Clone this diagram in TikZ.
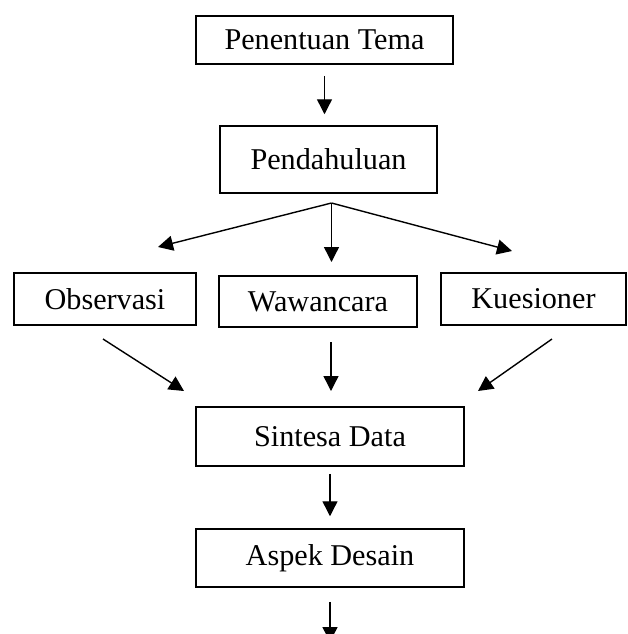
\documentclass[tikz,border=0pt]{standalone}
\usepackage{fontspec}
\setmainfont{Liberation Serif}
\usetikzlibrary{arrows.meta}
\tikzset{
  boxnode/.style={draw, line width=0.75pt, inner sep=0pt, font=\fontsize{15.1}{17}\selectfont},
  arr/.style={-{Triangle[length=7.5pt,width=7.5pt]}, line width=0.7pt}
}
\begin{document}
\begin{tikzpicture}[x=0.5pt,y=-0.5pt]
\clip (0,0) rectangle (628,634);
\fill[white] (0,0) rectangle (628,634);
\node[boxnode, minimum width=128.5pt, minimum height=24pt] (tema) at (324.5,40) {Penentuan Tema};
\node[boxnode, minimum width=108.5pt, minimum height=33.5pt] (pend) at (328.5,159.5) {Pendahuluan};
\node[boxnode, minimum width=91pt, minimum height=26pt] (obs) at (105,299) {Observasi};
\node[boxnode, minimum width=99pt, minimum height=25.5pt] (waw) at (318,301.5) {Wawancara};
\node[boxnode, minimum width=92.5pt, minimum height=26pt] (kue) at (533.5,299) {Kuesioner};
\node[boxnode, minimum width=134pt, minimum height=29.5pt] (sin) at (330,436.5) {Sintesa Data};
\node[boxnode, minimum width=134pt, minimum height=29pt] (asp) at (330,558) {Aspek Desain};
% free ends
\coordinate (fan) at (331.5,203);
\coordinate (tL) at (158,247);
\coordinate (tM) at (331.5,262);
\coordinate (tR) at (512,251);
\coordinate (oL) at (103,339);
\coordinate (iL) at (184,391);
\coordinate (oM) at (331,342);
\coordinate (iM) at (331,391);
\coordinate (oR) at (552,339);
\coordinate (iR) at (478,391);
\coordinate (endp) at (330,642);
% connectors
\draw[arr, shorten <=5.5pt, shorten >=5.5pt] (tema.south) -- (tema.south |- pend.north);
\draw[arr] (fan) -- (tL);
\draw[arr] (fan) -- (tM);
\draw[arr] (fan) -- (tR);
\draw[arr] (oL) -- (iL);
\draw[arr] (oM) -- (iM);
\draw[arr] (oR) -- (iR);
\draw[arr, shorten <=3.5pt, shorten >=6pt] (sin.south) -- (sin.south |- asp.north);
\draw[arr, shorten <=7pt] (asp.south) -- (endp);
\end{tikzpicture}
\end{document}
